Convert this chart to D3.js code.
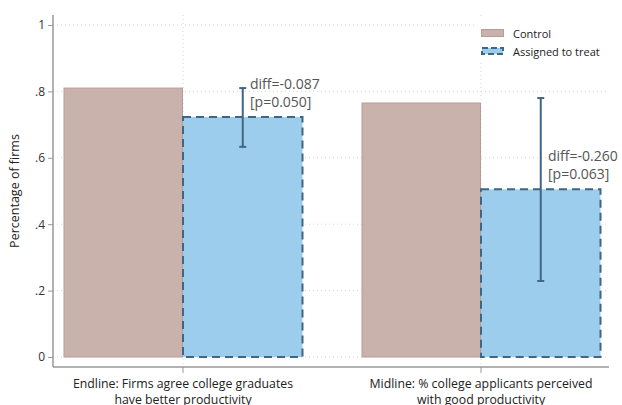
<!DOCTYPE html>
<html><head><meta charset="utf-8">
<script src="https://cdn.jsdelivr.net/npm/d3@7"></script>
<style>body{margin:0;background:#fff}svg{display:block}</style>
</head><body>
<svg id="c" width="622" height="405"></svg>
<script>
const categories = [
  ["Endline: Firms agree college graduates", "have better productivity"],
  ["Midline: % college applicants perceived", "with good productivity"]
];
const seriesNames = ["Control", "Assigned to treat"];
const controlValues = [0.810, 0.765];
const treatValues = [0.723, 0.505];
const ciLow = [0.633, 0.229];
const ciHigh = [0.810, 0.780];
const diffLabels = ["diff=-0.087", "diff=-0.260"];
const pLabels = ["[p=0.050]", "[p=0.063]"];
const yTicks = [0, 0.2, 0.4, 0.6, 0.8, 1];
const yTickLabels = ["0", ".2", ".4", ".6", ".8", "1"];

const svg = d3.select("#c");
const font = "'Open Sans', 'Noto Sans', sans-serif";
const x0 = 53, x1 = 609;
const y = d3.scaleLinear().domain([0, 1]).range([357, 25]);
const xc = d3.scalePoint().domain([0, 1]).range([183, 481]);
const bw = 119.5;

// gridlines horizontal
svg.append("g").selectAll("line").data(yTicks).join("line")
  .attr("x1", x0).attr("x2", x1)
  .attr("y1", d => y(d)).attr("y2", d => y(d))
  .attr("stroke", "#d4d4d4").attr("stroke-width", 1)
  .attr("stroke-dasharray", "1,3");
// vertical grid at categories
svg.append("g").selectAll("line").data([0, 1]).join("line")
  .attr("x1", d => xc(d)).attr("x2", d => xc(d))
  .attr("y1", 15).attr("y2", 364)
  .attr("stroke", "#d4d4d4").attr("stroke-width", 1)
  .attr("stroke-dasharray", "1,3");

// control bars
svg.append("g").selectAll("rect").data(controlValues).join("rect")
  .attr("x", (d, i) => xc(i) - bw + 0.5).attr("y", d => y(d))
  .attr("width", bw - 1).attr("height", d => y(0) - y(d))
  .attr("fill", "#c9b1ac").attr("stroke", "#bc9b95").attr("stroke-width", 1);

// treat bars
svg.append("g").selectAll("rect").data(treatValues).join("rect")
  .attr("x", (d, i) => xc(i)).attr("y", d => y(d))
  .attr("width", bw).attr("height", d => y(0) - y(d))
  .attr("fill", "#9dcdec").attr("stroke", "#3f6684").attr("stroke-width", 2)
  .attr("stroke-dasharray", "8,5");

// error bars
const eb = svg.append("g").attr("stroke", "#3f6684").attr("stroke-width", 2);
[0, 1].forEach(i => {
  const cx = xc(i) + bw / 2;
  eb.append("line").attr("x1", cx).attr("x2", cx).attr("y1", y(ciLow[i])).attr("y2", y(ciHigh[i]));
  eb.append("line").attr("x1", cx - 3.5).attr("x2", cx + 3.5).attr("y1", y(ciLow[i])).attr("y2", y(ciLow[i]));
  eb.append("line").attr("x1", cx - 3.5).attr("x2", cx + 3.5).attr("y1", y(ciHigh[i])).attr("y2", y(ciHigh[i]));
});

// annotations
const annPos = [[250, 89], [548, 161]];
[0, 1].forEach(i => {
  const t = svg.append("text").attr("x", annPos[i][0]).attr("y", annPos[i][1])
    .attr("font-family", font).attr("font-size", 14).attr("fill", "#555");
  t.append("tspan").attr("x", annPos[i][0]).text(diffLabels[i]);
  t.append("tspan").attr("x", annPos[i][0]).attr("dy", 18).text(pLabels[i]);
});

// y axis
const yAxis = d3.axisLeft(y).tickValues(yTicks).tickFormat((d, i) => yTickLabels[i]).tickSize(5).tickPadding(3);
const ya = svg.append("g").attr("transform", `translate(${x0},0)`).call(yAxis);
ya.select(".domain").remove();
ya.selectAll(".tick line").attr("stroke", "#999");
ya.selectAll(".tick text").attr("font-family", font).attr("font-size", 12).attr("fill", "#333");
svg.append("line").attr("x1", x0).attr("x2", x0).attr("y1", 15).attr("y2", 367)
  .attr("stroke", "#999").attr("stroke-width", 1.5);

// x axis
svg.append("line").attr("x1", x0).attr("x2", x1).attr("y1", 367).attr("y2", 367)
  .attr("stroke", "#999").attr("stroke-width", 1.5);
svg.append("g").selectAll("line").data([0, 1]).join("line")
  .attr("x1", d => xc(d)).attr("x2", d => xc(d)).attr("y1", 367).attr("y2", 373)
  .attr("stroke", "#999");
categories.forEach((lines, i) => {
  const t = svg.append("text").attr("text-anchor", "middle")
    .attr("font-family", font).attr("font-size", 12.3).attr("fill", "#222");
  lines.forEach((l, j) => t.append("tspan").attr("x", xc(i)).attr("y", 388 + j * 16).text(l));
});

// y title
svg.append("text").attr("transform", "translate(19,191) rotate(-90)")
  .attr("text-anchor", "middle").attr("font-family", font).attr("font-size", 12.5)
  .attr("fill", "#222").text("Percentage of firms");

// legend
const lg = svg.append("g");
lg.append("rect").attr("x", 476).attr("y", 17).attr("width", 130).attr("height", 46).attr("fill", "#fff");
lg.append("rect").attr("x", 481.5).attr("y", 29.5).attr("width", 22).attr("height", 7)
  .attr("fill", "#c9b1ac").attr("stroke", "#bc9b95");
lg.append("rect").attr("x", 482).attr("y", 48).attr("width", 21).attr("height", 6)
  .attr("fill", "#9dcdec").attr("stroke", "#3f6684").attr("stroke-width", 2).attr("stroke-dasharray", "6,3");
seriesNames.forEach((s, i) => {
  lg.append("text").attr("x", 513).attr("y", 37.5 + i * 18).attr("font-family", font)
    .attr("font-size", 11).attr("fill", "#222").text(s);
});
</script>
</body></html>
